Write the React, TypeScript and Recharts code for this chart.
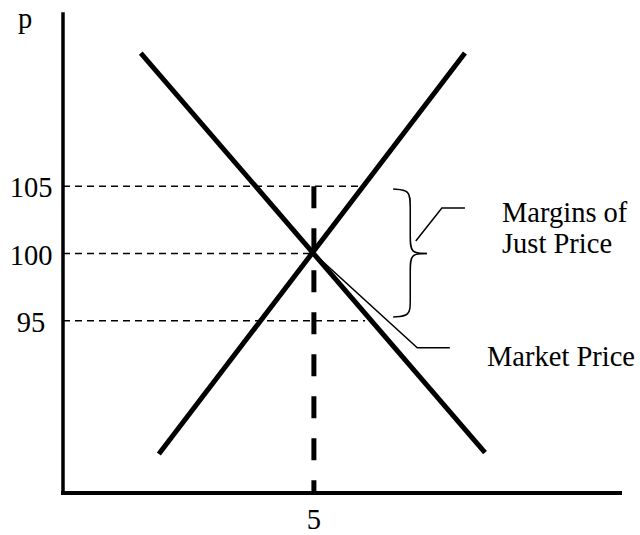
import React from 'react';
import { LineChart, Line, XAxis, YAxis, Customized } from 'recharts';

const xTicks = [5];
const yTicks = [95, 100, 105];

const demand = [
  { x: 1.55, y: 114.9 },
  { x: 8.41, y: 85.2 },
];
const supply = [
  { x: 1.91, y: 85.1 },
  { x: 8.01, y: 114.9 },
];
const marketPrice = [
  { x: 5, y: 100 },
  { x: 7.06, y: 93.0 },
  { x: 7.71, y: 93.0 },
];
const guide105 = [
  { x: 0, y: 105 },
  { x: 5.92, y: 105 },
];
const guide100 = [
  { x: 0, y: 100 },
  { x: 5, y: 100 },
];
const guide95 = [
  { x: 0, y: 95 },
  { x: 6.02, y: 95 },
];
const quantityGuide = [
  { x: 5, y: 105 },
  { x: 5, y: 82.2 },
];
const braceTop = [
  { x: 6.58, y: 104.79 },
  { x: 6.92, y: 104.72 },
  { x: 6.92, y: 103.6 },
  { x: 6.92, y: 101.15 },
  { x: 6.92, y: 100.0 },
  { x: 7.25, y: 100.0 },
];
const braceBottom = [
  { x: 7.25, y: 100.0 },
  { x: 6.92, y: 100.0 },
  { x: 6.92, y: 98.85 },
  { x: 6.92, y: 96.4 },
  { x: 6.92, y: 95.35 },
  { x: 6.58, y: 95.28 },
];
const marginsPointer = [
  { x: 7.03, y: 100.93 },
  { x: 7.55, y: 103.38 },
  { x: 8.01, y: 103.38 },
];

const FONT = '"Liberation Serif", "Times New Roman", serif';
const FS = 28.5;

const YTick = (props: any) => {
  const { y, payload } = props;
  return (
    <text x={31} y={y} dy={11} textAnchor="middle" fontSize={FS} fontFamily={FONT} fill="#000">
      {payload.value}
    </text>
  );
};

const XTick = (props: any) => {
  const { x, y, payload } = props;
  return (
    <text x={x} y={y} dy={28} textAnchor="middle" fontSize={FS} fontFamily={FONT} fill="#000">
      {payload.value}
    </text>
  );
};

const Annotations = () => (
  <g fontFamily={FONT} fontSize={FS} fill="#000">
    <text x={18} y={28}>p</text>
    <text x={502} y={222}>Margins of</text>
    <text x={502} y={253}>Just Price</text>
    <text x={487} y={366}>Market Price</text>
  </g>
);

export default function App() {
  const thin = { stroke: '#000', dot: false, activeDot: false, isAnimationActive: false } as const;
  return (
    <div style={{ position: 'fixed', left: 0, top: 0, width: 640, height: 535, background: '#fff' }}>
      <LineChart width={640} height={535} margin={{ top: 14, right: 20, left: 0, bottom: 0 }}>
        <XAxis
          type="number"
          dataKey="x"
          domain={[0, 11.1]}
          ticks={xTicks}
          allowDataOverflow
          height={42}
          tickLine={false}
          axisLine={{ stroke: '#000', strokeWidth: 4, strokeLinecap: 'square' }}
          tick={<XTick />}
          interval={0}
        />
        <YAxis
          type="number"
          dataKey="y"
          domain={[82.2, 117.8]}
          ticks={yTicks}
          allowDataOverflow
          width={63}
          tickLine={false}
          axisLine={{ stroke: '#000', strokeWidth: 3.5, strokeLinecap: 'square' }}
          tick={<YTick />}
          interval={0}
        />
        <Line data={guide105} dataKey="y" {...thin} strokeWidth={1.5} strokeDasharray="7 5" />
        <Line data={guide100} dataKey="y" {...thin} strokeWidth={1.5} strokeDasharray="7 5" />
        <Line data={guide95} dataKey="y" {...thin} strokeWidth={1.5} strokeDasharray="7 5" />
        <Line data={quantityGuide} dataKey="y" {...thin} strokeWidth={5} strokeDasharray="22 20" />
        <Line data={marketPrice} dataKey="y" {...thin} strokeWidth={1.5} />
        <Line data={demand} dataKey="y" {...thin} strokeWidth={5} />
        <Line data={supply} dataKey="y" {...thin} strokeWidth={5} />
        <Line data={braceTop} dataKey="y" type="basis" {...thin} strokeWidth={1.5} />
        <Line data={braceBottom} dataKey="y" type="basis" {...thin} strokeWidth={1.5} />
        <Line data={marginsPointer} dataKey="y" {...thin} strokeWidth={1.5} />
        <Customized component={Annotations} />
      </LineChart>
    </div>
  );
}
